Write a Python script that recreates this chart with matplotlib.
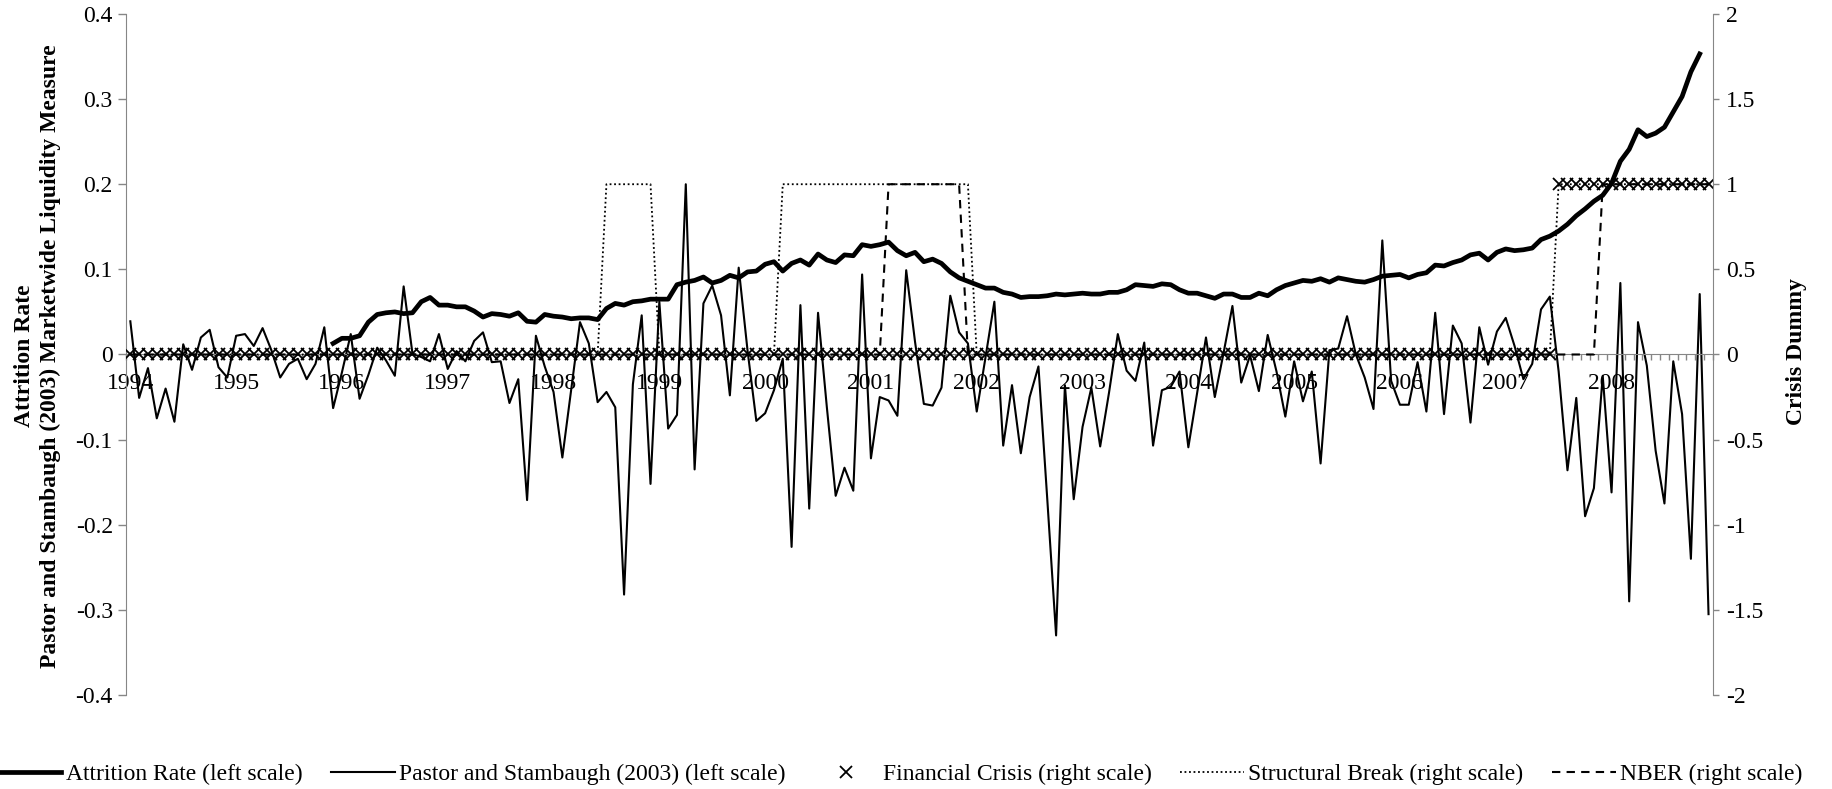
import matplotlib.pyplot as plt
import numpy as np
import pandas as pd
from matplotlib.ticker import FuncFormatter

plt.rcParams['font.family'] = ['Liberation Serif', 'DejaVu Serif']
plt.rcParams['axes.unicode_minus'] = False

# monthly categories, Jan 1994 - Dec 2008
months = pd.period_range('1994-01', '2008-12', freq='M')

# Pastor and Stambaugh (2003) liquidity measure, one value per month
ps_liquidity = [
    0.039, -0.051, -0.016, -0.075, -0.040, -0.079, 0.012, -0.018, 0.020, 0.029, -0.015, -0.027,   # 1994
    0.022, 0.024, 0.010, 0.031, 0.005, -0.027, -0.011, -0.005, -0.029, -0.011, 0.032, -0.063,     # 1995
    -0.021, 0.024, -0.052, -0.024, 0.008, -0.007, -0.025, 0.080, 0.001, -0.003, -0.008, 0.024,    # 1996
    -0.017, 0.004, -0.008, 0.016, 0.026, -0.009, -0.008, -0.057, -0.029, -0.171, 0.022, -0.014,   # 1997
    -0.044, -0.121, -0.042, 0.038, 0.013, -0.056, -0.044, -0.062, -0.282, -0.035, 0.046, -0.152,  # 1998
    0.062, -0.087, -0.071, 0.200, -0.135, 0.060, 0.081, 0.046, -0.048, 0.102, 0.005, -0.078,      # 1999
    -0.069, -0.042, -0.005, -0.226, 0.058, -0.181, 0.049, -0.062, -0.166, -0.133, -0.160, 0.094,  # 2000
    -0.122, -0.050, -0.054, -0.072, 0.099, 0.015, -0.058, -0.060, -0.039, 0.069, 0.026, 0.013,    # 2001
    -0.067, -0.003, 0.062, -0.107, -0.036, -0.116, -0.050, -0.014, -0.170, -0.330, -0.036, -0.170,  # 2002
    -0.085, -0.039, -0.108, -0.045, 0.024, -0.019, -0.031, 0.014, -0.107, -0.042, -0.038, -0.020,   # 2003
    -0.109, -0.045, 0.020, -0.050, 0.002, 0.057, -0.033, -0.001, -0.043, 0.023, -0.020, -0.073,     # 2004
    -0.008, -0.055, -0.020, -0.128, 0.005, 0.007, 0.045, 0.000, -0.027, -0.064, 0.134, -0.031,      # 2005
    -0.059, -0.059, -0.009, -0.067, 0.049, -0.070, 0.034, 0.013, -0.080, 0.032, -0.012, 0.027,      # 2006
    0.043, 0.010, -0.029, -0.011, 0.053, 0.068, -0.020, -0.136, -0.051, -0.190, -0.157, -0.025,     # 2007
    -0.162, 0.084, -0.290, 0.038, -0.013, -0.113, -0.175, -0.008, -0.070, -0.240, 0.071, -0.305,    # 2008
]

# attrition rate, Dec 1995 - Nov 2008
attrition_start = '1995-12'
attrition = [
    0.013,
    0.019, 0.019, 0.022, 0.038, 0.047, 0.049, 0.050, 0.048, 0.049, 0.062, 0.067, 0.058,   # 1996
    0.058, 0.056, 0.056, 0.051, 0.044, 0.048, 0.047, 0.045, 0.049, 0.039, 0.038, 0.047,   # 1997
    0.045, 0.044, 0.042, 0.043, 0.043, 0.041, 0.054, 0.060, 0.058, 0.062, 0.063, 0.065,   # 1998
    0.065, 0.065, 0.082, 0.085, 0.087, 0.091, 0.084, 0.087, 0.093, 0.090, 0.097, 0.098,   # 1999
    0.106, 0.109, 0.098, 0.107, 0.111, 0.105, 0.118, 0.111, 0.108, 0.117, 0.116, 0.129,   # 2000
    0.127, 0.129, 0.132, 0.122, 0.116, 0.120, 0.109, 0.112, 0.107, 0.097, 0.090, 0.086,   # 2001
    0.082, 0.078, 0.078, 0.073, 0.071, 0.067, 0.068, 0.068, 0.069, 0.071, 0.070, 0.071,   # 2002
    0.072, 0.071, 0.071, 0.073, 0.073, 0.076, 0.082, 0.081, 0.080, 0.083, 0.082, 0.076,   # 2003
    0.072, 0.072, 0.069, 0.066, 0.071, 0.071, 0.067, 0.067, 0.072, 0.069, 0.076, 0.081,   # 2004
    0.084, 0.087, 0.086, 0.089, 0.085, 0.090, 0.088, 0.086, 0.085, 0.088, 0.092, 0.093,   # 2005
    0.094, 0.090, 0.094, 0.096, 0.105, 0.104, 0.108, 0.111, 0.117, 0.119, 0.111, 0.120,   # 2006
    0.124, 0.122, 0.123, 0.125, 0.135, 0.139, 0.145, 0.153, 0.163, 0.171, 0.180, 0.187,   # 2007
    0.201, 0.227, 0.241, 0.264, 0.256, 0.260, 0.267, 0.285, 0.303, 0.332, 0.353,          # 2008
]

# dummy episodes (first month, last month)
crisis_periods = [('2007-07', '2008-12')]
break_periods = [('1998-07', '1998-12'), ('2000-03', '2001-12'), ('2007-07', '2008-12')]
nber_periods = [('2001-03', '2001-11'), ('2007-12', '2008-12')]

years = [str(y) for y in range(1994, 2009)]

n = len(months)
x = np.arange(n)


def dummy(periods):
    d = np.zeros(n)
    for a, b in periods:
        d[(months >= pd.Period(a, 'M')) & (months <= pd.Period(b, 'M'))] = 1
    return d


attr = np.full(n, np.nan)
k = months.get_loc(pd.Period(attrition_start, 'M'))
attr[k:k + len(attrition)] = attrition

gray = '#868686'
fs = 17

fig = plt.figure(figsize=(18.33, 7.89), dpi=100)
ax1 = fig.add_axes([0.0687, 0.1191, 0.8658, 0.8632])
ax2 = ax1.twinx()

ax1.plot(x, attr, color='black', lw=3.4, label='Attrition Rate (left scale)')
ax1.plot(x, ps_liquidity, color='black', lw=1.5, label='Pastor and Stambaugh (2003) (left scale)')
ax2.plot(x, dummy(crisis_periods), ls='none', marker='x', ms=8, mew=1.3, color='black',
         label='Financial Crisis (right scale)')
ax2.plot(x, dummy(break_periods), color='black', lw=1.3, ls=(0, (1, 1.5)),
         label='Structural Break (right scale)')
ax2.plot(x, dummy(nber_periods), color='black', lw=1.5, ls=(0, (4, 3)),
         label='NBER (right scale)')

ax1.set_xlim(-0.5, n - 0.5)
ax1.set_ylim(-0.4, 0.4)
ax2.set_ylim(-2, 2)


def fmt(v, p):
    return '0' if abs(v) < 1e-9 else f'{round(v, 2):g}'


ax1.set_yticks(np.linspace(-0.4, 0.4, 9))
ax2.set_yticks(np.linspace(-2, 2, 9))
ax1.yaxis.set_major_formatter(FuncFormatter(fmt))
ax2.yaxis.set_major_formatter(FuncFormatter(fmt))

# category axis on the zero line
ax1.spines['bottom'].set_position(('data', 0))
ax1.spines['bottom'].set_color(gray)
ax1.spines['left'].set_color(gray)
ax1.spines['top'].set_visible(False)
ax1.spines['right'].set_visible(False)
for s in ['left', 'top', 'bottom']:
    ax2.spines[s].set_visible(False)
ax2.spines['right'].set_color(gray)

ax1.set_xticks(np.arange(0, n, 12))
ax1.set_xticklabels(years)
ax1.set_xticks(np.arange(-0.5, n, 1), minor=True)
ax1.tick_params(axis='x', which='major', length=0, pad=13, labelsize=fs)
ax1.tick_params(axis='x', which='minor', length=4.5, width=1, color=gray, direction='out')
ax1.tick_params(axis='y', length=5.8, width=1, color=gray, pad=3.6, labelsize=fs)
ax2.tick_params(axis='y', length=4.5, width=1, color=gray, pad=5, labelsize=fs)

fig.text(0.0205, 0.549, 'Attrition Rate\nPastor and Stambaugh (2003) Marketwide Liquidity Measure',
         rotation=90, ha='center', va='center', ma='center', fontsize=fs, fontweight='bold',
         linespacing=1.3)
fig.text(0.98, 0.555, 'Crisis Dummy', rotation=90, ha='center', va='center',
         fontsize=fs, fontweight='bold')

h1, l1 = ax1.get_legend_handles_labels()
h2, l2 = ax2.get_legend_handles_labels()
fig.legend(h1 + h2, l1 + l2, loc='center', bbox_to_anchor=(0.491, 0.019), ncol=5,
           frameon=False, fontsize=fs, handlelength=2.7, handletextpad=0.2, columnspacing=1.2,
           borderaxespad=0, borderpad=0)

fig.savefig('out.png', dpi=100)
